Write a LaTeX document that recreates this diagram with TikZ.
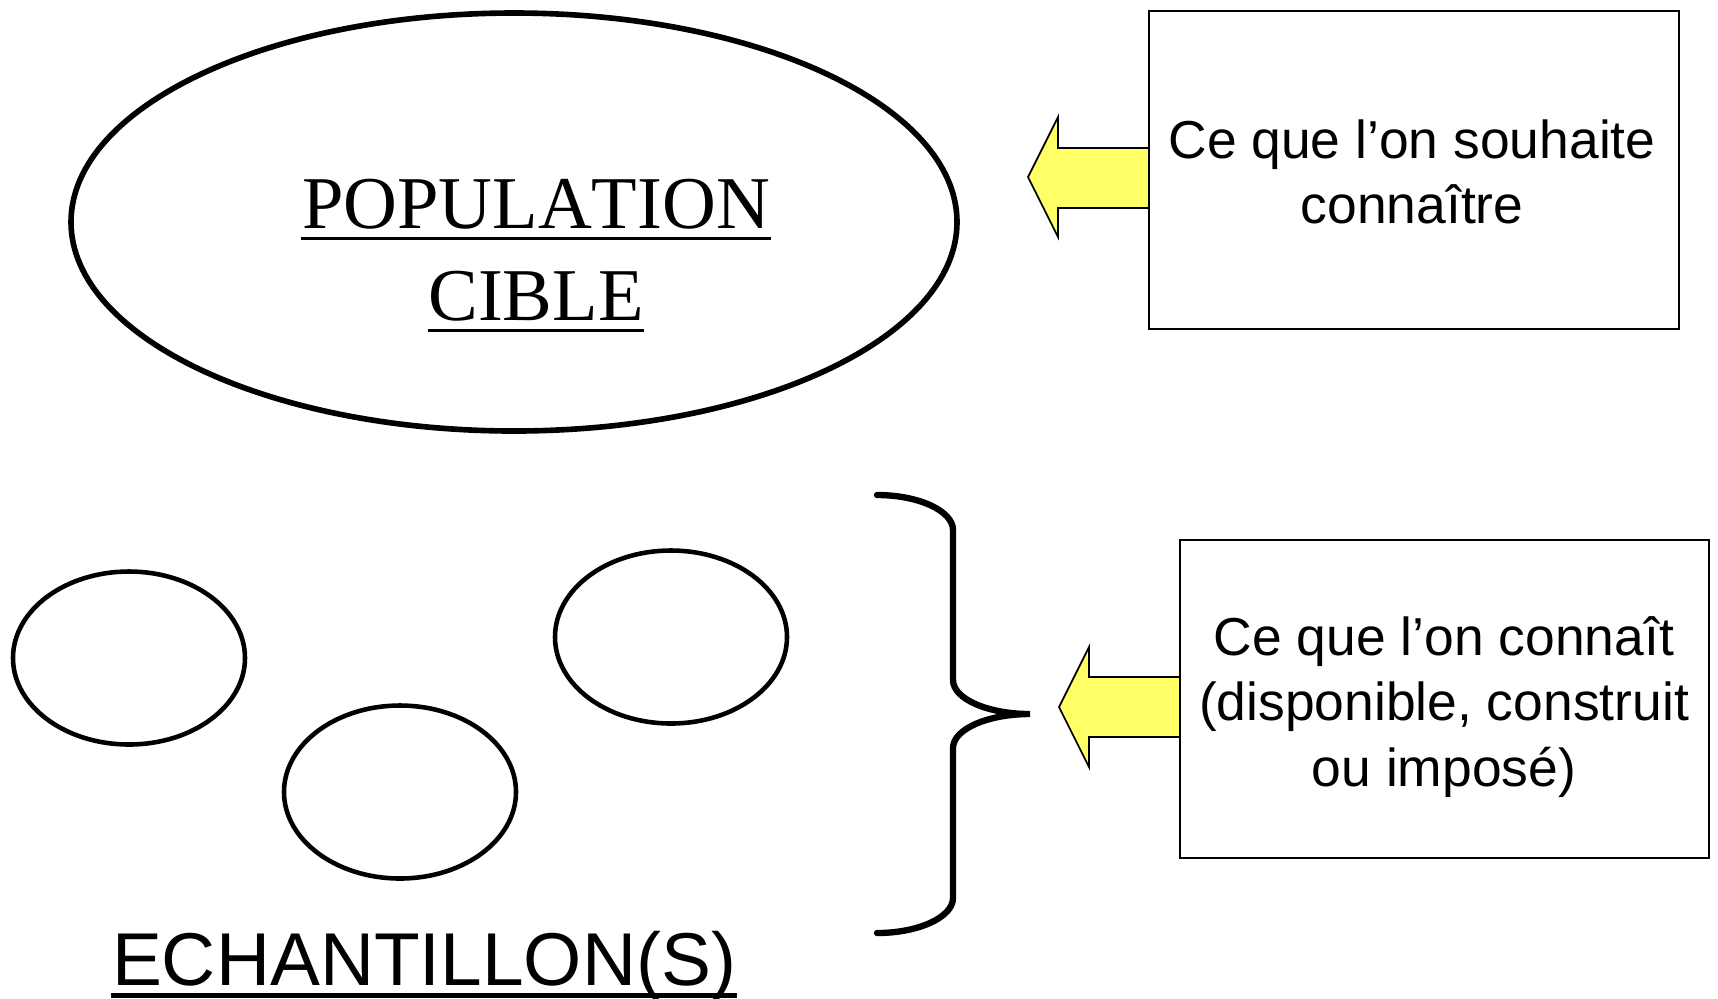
\documentclass[tikz,border=0pt]{standalone}
\usepackage{fontspec}
\setmainfont{Liberation Sans}
\newfontfamily\titrefont[Kerning=Off]{Liberation Serif}
\usetikzlibrary{shapes.geometric}
\definecolor{jaune}{HTML}{FFFF66}

\begin{document}
\begin{tikzpicture}[
	ovale/.style={draw, ellipse, inner sep=0pt, line width=1.3pt},
	boite/.style={draw, line width=0.7pt, inner sep=0pt},
	texte/.style={align=center, inner sep=0pt, font=\fontsize{15.2}{18.6}\selectfont},
	fleche/.style={draw=black, line width=0.5pt, fill=jaune, line join=miter},
	titre/.style={inner sep=0pt, anchor=base, font=\titrefont\fontsize{21.2}{26}\selectfont},
	souligne/.style={line width=1pt},
	accolade/.style={line width=1.8pt, line cap=round}
]
	\useasboundingbox (0,0) rectangle (17.18,-9.98);

	% population
	\node[ovale, line width=1.6pt, minimum width=8.86cm, minimum height=4.18cm] (pop) at (5.14,-2.22) {};
	\node[titre] (pop1) at (5.36,-2.28) {POPULATION};
	\node[titre] (pop2) at (5.36,-3.20) {CIBLE};
	\draw[souligne] ([yshift=-1.05mm]pop1.base west) -- ([yshift=-1.05mm]pop1.base east);
	\draw[souligne] ([yshift=-1.05mm]pop2.base west) -- ([yshift=-1.05mm]pop2.base east);

	% echantillons
	\foreach \n/\x/\y in {e1/1.29/-6.58, e2/4.00/-7.92, e3/6.71/-6.37} {
		\node[ovale, minimum width=2.32cm, minimum height=1.73cm] (\n) at (\x,\y) {};
	}
	\node[titre, font=\fontsize{21.3}{26}\selectfont] (ech) at (4.24,-9.85) {ECHANTILLON(S)};
	\draw[souligne, line width=1.3pt] ([yshift=-1.05mm]ech.base west) -- ([yshift=-1.05mm]ech.base east);

	\draw[accolade] (8.77,-4.95) .. controls (9.19,-4.95) and (9.53,-5.11) .. (9.53,-5.30)
		-- (9.53,-6.80) .. controls (9.53,-6.99) and (9.88,-7.14) .. (10.30,-7.14)
		.. controls (9.88,-7.14) and (9.53,-7.29) .. (9.53,-7.48)
		-- (9.53,-8.98) .. controls (9.53,-9.17) and (9.19,-9.33) .. (8.77,-9.33);

	% boites de droite
	\node[boite, minimum width=5.30cm, minimum height=3.18cm] (b1) at (14.14,-1.70) {};
	\node[texte] (t1) at (14.12,-1.72) {Ce que l’on souhaite\\connaître};
	\node[boite, minimum width=5.29cm, minimum height=3.18cm] (b2) at (14.445,-6.99) {};
	\node[texte] (t2) at (14.44,-7.07) {Ce que l’on connaît\\(disponible, construit\\ou imposé)};

	\draw[fleche] (b1.west |- 0,-1.48) -- (10.58,-1.48) -- (10.58,-1.17) -- (10.28,-1.77)
		-- (10.58,-2.37) -- (10.58,-2.08) -- (b1.west |- 0,-2.08);
	\draw[fleche] (b2.west |- 0,-6.77) -- (10.89,-6.77) -- (10.89,-6.47) -- (10.59,-7.07)
		-- (10.89,-7.67) -- (10.89,-7.37) -- (b2.west |- 0,-7.37);
\end{tikzpicture}
\end{document}
